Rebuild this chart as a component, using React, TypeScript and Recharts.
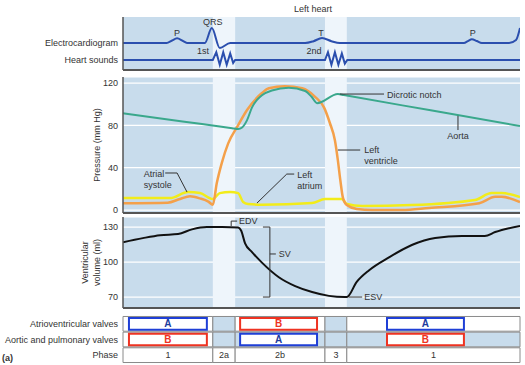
import React from "react";
import {
    LineChart, Line, XAxis, YAxis, CartesianGrid,
    ReferenceArea, ReferenceLine, ReferenceDot,
} from "recharts";

const W = 525;
const H = 365;
const FONT = "'Liberation Sans', Arial, Helvetica, sans-serif";
const BG = "#c8dcec";
const LIGHT = "#eef5fb";
const FRAME = "#555";
const INK = "#333";

// time in ms from the start of the trace
const phaseBounds = [0, 181, 226, 407, 451, 800];
const phaseNames = ["1", "2a", "2b", "3", "1"];
const lightPhases = [1, 3];

// ECG (mV) and heart sounds (relative amplitude)
const ecgT = [0, 88, 98, 109, 120, 129, 165, 179, 195, 216, 367, 384, 401, 420, 437, 687, 695, 703, 713, 723, 778, 792, 800];
const ecgMv = [0, 0, 0.15, 0.31, 0.15, 0, 0, 1.0, -0.33, 0, 0, 0.12, 0.33, 0.12, 0, 0, 0.13, 0.25, 0.13, 0, 0, 0.2, 1.0];
const soundT = [0, 181, 188, 195, 202, 209, 216, 222, 226, 407, 413, 420, 427, 434, 441, 447, 452, 800];
const soundAmp = [0, 0, 1.3, -0.8, 1.3, -0.8, 1.1, -0.5, 0, 0, 1.3, -0.8, 1.3, -0.8, 1.1, -0.6, 0, 0];

// pressures (mm Hg)
const aortaT = [0, 120, 220, 232, 240, 250, 260, 270, 280, 300, 334, 367, 380, 391, 433, 445, 620, 800];
const aortaP = [91.5, 83.7, 77.3, 76.5, 78, 85, 97, 104, 108.5, 113, 115.5, 112.5, 107, 101, 109.6, 108.6, 94.2, 79.4];
const ventT = [0, 90, 115, 135, 155, 172, 181, 189, 199, 212, 230, 250, 280, 294, 326, 361, 387, 405, 417, 427, 433, 438, 443, 451, 471, 502, 562, 617, 718, 750, 763, 800];
const ventP = [6.5, 7, 10.5, 13, 11, 8, 5, 25.5, 44.4, 63, 78.5, 94.5, 110.5, 115, 117, 115, 107, 97, 82, 66, 47, 28, 12, 4.7, 1, 0, 0, 2, 6.5, 12.5, 12.5, 7.5];
const atriumT = [0, 95, 131, 155, 181, 195, 216, 232, 242, 252, 280, 381, 407, 441, 451, 482, 582, 709, 743, 763, 800];
const atriumP = [11.3, 11.3, 17, 16, 10.4, 16, 17, 16, 7.6, 5.7, 5, 6.6, 10.4, 10.4, 5.7, 3.8, 4.7, 9.5, 16, 16, 12.3];

// ventricular volume (ml)
const volT = [0, 40, 75, 111, 139, 169, 200, 232, 238, 246, 260, 280, 314, 347, 381, 415, 447, 451, 471, 496, 536, 582, 629, 683, 729, 750, 800];
const volMl = [117, 120.5, 123, 124, 128, 130, 130, 129.5, 127, 116, 108.5, 99.5, 87, 79.4, 74.3, 71, 70, 70, 83, 93, 104, 114.6, 120.6, 122.3, 122.3, 125.7, 131];

// valve table
const rowLabels = ["Phase", "Aortic and pulmonary valves", "Atrioventricular valves"];
const avLetters = ["A", "", "B", "", "A"];
const aorticLetters = ["B", "", "A", "", "B"];
const avShaded = [false, true, false, true, false];
const aorticShaded = [false, true, true, true, true];
const boxFrom = [12, 0, 236, 0, 532];
const boxTo = [169, 0, 391, 0, 687];

const toPoints = (ts: number[], vs: number[]) => ts.map((t, i) => ({t, v: vs[i]}));

const ecgData = toPoints(ecgT, ecgMv);
const soundData = toPoints(soundT, soundAmp);
const aortaData = toPoints(aortaT, aortaP);
const ventData = toPoints(ventT, ventP);
const atriumData = toPoints(atriumT, atriumP);
const volData = toPoints(volT, volMl);

const ECG_DOMAIN = [-1.8, 1.733];
const SOUND_DOMAIN = [-1.67, 7.17];
const P_DOMAIN = [-2.8, 125.7];
const V_DOMAIN = [60.6, 138.6];

const tickStyle = {fontSize: 9, fill: INK, fontFamily: FONT};

// single-line tick text (recharts would otherwise wrap long labels)
const plainTick = (format: (v: number) => string) => (p: any) => (
    <text x={p.x} y={p.y} textAnchor="end" dominantBaseline="central"
          fontSize={9} fontFamily={FONT} fill={INK}>{format(p.payload.value)}</text>
);

const note = (lines: string[], anchor: "start" | "middle" | "end" = "start") => (p: any) => (
    <text x={p.cx} y={p.cy} textAnchor={anchor} dominantBaseline="central"
          fontSize={9} fontFamily={FONT} fill={INK}>
        {lines.map((l, i) => <tspan key={i} x={p.cx} dy={i === 0 ? 0 : 11}>{l}</tspan>)}
    </text>
);

const axisTitle = (lines: string[], dx: number) => (props: any) => {
    const vb = props.viewBox;
    const cx = vb.x + vb.width - dx;
    const cy = vb.y + vb.height / 2;
    return (
        <text x={cx} y={cy} transform={`rotate(-90, ${cx}, ${cy})`} textAnchor="middle"
              dominantBaseline="central" fontSize={9} fontFamily={FONT} fill={INK}>
            {lines.map((l, i) => (
                <tspan key={i} x={cx} dy={i === 0 ? -(lines.length - 1) * 6 : 12}>{l}</tspan>
            ))}
        </text>
    );
};

const bands = (yAxisId: any) => lightPhases.map(i => (
    <ReferenceArea key={"band" + i} yAxisId={yAxisId} x1={phaseBounds[i]} x2={phaseBounds[i + 1]}
                   fill={LIGHT} fillOpacity={1} stroke="none" ifOverflow="visible"/>
));

const leader = (pts: number[][], yAxisId: any = 0) => pts.slice(1).map((p, i) => (
    <ReferenceLine key={"ld" + i} yAxisId={yAxisId}
                   segment={[{x: pts[i][0], y: pts[i][1]}, {x: p[0], y: p[1]}]}
                   stroke={INK} strokeWidth={1} ifOverflow="visible"/>
));

const abs: React.CSSProperties = {position: "absolute", left: 0, top: 0};

const EcgPanel = () => (
    <div style={abs}>
        <LineChart width={W} height={H} margin={{top: 17, right: 5, bottom: 295, left: 0}}>
            <CartesianGrid yAxisId="ecg" fill={BG} fillOpacity={1} horizontal={false} vertical={false}/>
            {bands("ecg")}
            <XAxis type="number" dataKey="t" domain={[0, 800]} hide height={0} allowDataOverflow/>
            <YAxis yAxisId="ecg" type="number" domain={ECG_DOMAIN} ticks={[0]} width={123}
                   tickSize={3} tickMargin={2} tickLine={false} interval={0}
                   axisLine={{stroke: FRAME, strokeWidth: 1.5}} tick={plainTick(() => "Electrocardiogram")}
                   allowDataOverflow/>
            <YAxis yAxisId="snd" type="number" domain={SOUND_DOMAIN} hide width={0} orientation="right"
                   allowDataOverflow/>
            <ReferenceLine yAxisId="ecg" y={ECG_DOMAIN[0]} stroke={FRAME} strokeWidth={2} ifOverflow="visible"/>
            <Line yAxisId="ecg" data={ecgData} dataKey="v" type="monotone" stroke="#2b4fae" strokeWidth={2}
                  dot={false} isAnimationActive={false}/>
            <Line yAxisId="snd" data={soundData} dataKey="v" type="linear" stroke="#2b4fae" strokeWidth={2}
                  dot={false} isAnimationActive={false}/>
            <ReferenceDot yAxisId="snd" x={0} y={0} r={1} ifOverflow="visible"
                          shape={(p: any) => note(["Heart sounds"], "end")({cx: p.cx - 5, cy: p.cy})}/>
            <ReferenceDot yAxisId="ecg" x={109} y={0.67} r={1} ifOverflow="visible" shape={note(["P"], "middle")}/>
            <ReferenceDot yAxisId="ecg" x={181} y={1.4} r={1} ifOverflow="visible" shape={note(["QRS"], "middle")}/>
            <ReferenceDot yAxisId="ecg" x={399} y={0.67} r={1} ifOverflow="visible" shape={note(["T"], "middle")}/>
            <ReferenceDot yAxisId="ecg" x={705} y={0.67} r={1} ifOverflow="visible" shape={note(["P"], "middle")}/>
            <ReferenceDot yAxisId="ecg" x={161} y={-0.53} r={1} ifOverflow="visible" shape={note(["1st"], "middle")}/>
            <ReferenceDot yAxisId="ecg" x={385} y={-0.53} r={1} ifOverflow="visible" shape={note(["2nd"], "middle")}/>
        </LineChart>
    </div>
);

const PressurePanel = () => (
    <div style={abs}>
        <LineChart width={W} height={H} margin={{top: 77, right: 5, bottom: 152, left: 0}}>
            <CartesianGrid fill={BG} fillOpacity={1} stroke="#fff" strokeWidth={1.2} vertical={false}/>
            {bands(0)}
            <XAxis type="number" dataKey="t" domain={[0, 800]} hide height={0} allowDataOverflow/>
            <YAxis type="number" domain={P_DOMAIN} ticks={[0, 40, 80, 120]} width={123} interval={0}
                   tickSize={3} tickMargin={2} tickLine={false}
                   axisLine={{stroke: FRAME, strokeWidth: 1.5}} tick={tickStyle} allowDataOverflow
                   label={{content: axisTitle(["Pressure (mm Hg)"], 26)}}/>
            <ReferenceLine y={P_DOMAIN[0]} stroke={FRAME} strokeWidth={2} ifOverflow="visible"/>
            <Line data={atriumData} dataKey="v" type="monotone" stroke="#f2ec1a" strokeWidth={2.5}
                  dot={false} isAnimationActive={false}/>
            <Line data={ventData} dataKey="v" type="monotone" stroke="#f4a04a" strokeWidth={2.5}
                  dot={false} isAnimationActive={false}/>
            <Line data={aortaData} dataKey="v" type="monotone" stroke="#3aa88c" strokeWidth={2}
                  dot={false} isAnimationActive={false}/>
            {leader([[85, 35], [109, 35], [129, 17]])}
            <ReferenceDot x={42} y={34} r={1} ifOverflow="visible" shape={note(["Atrial", "systole"])}/>
            {leader([[345, 34], [330, 34], [270, 6.6]])}
            <ReferenceDot x={351} y={33} r={1} ifOverflow="visible" shape={note(["Left", "atrium"])}/>
            {leader([[433, 56.7], [478, 56.7]])}
            <ReferenceDot x={486} y={56.7} r={1} ifOverflow="visible" shape={note(["Left", "ventricle"])}/>
            {leader([[437, 109.6], [526, 109.6]])}
            <ReferenceDot x={532} y={108.7} r={1} ifOverflow="visible" shape={note(["Dicrotic notch"])}/>
            {leader([[675, 89], [675, 75.6]])}
            <ReferenceDot x={675} y={70} r={1} ifOverflow="visible" shape={note(["Aorta"], "middle")}/>
        </LineChart>
    </div>
);

const VolumePanel = () => (
    <div style={abs}>
        <LineChart width={W} height={H} margin={{top: 217, right: 5, bottom: 57, left: 0}}>
            <CartesianGrid fill={BG} fillOpacity={1} stroke="#fff" strokeWidth={1.2} vertical={false}/>
            {bands(0)}
            <XAxis type="number" dataKey="t" domain={[0, 800]} hide height={0} allowDataOverflow/>
            <YAxis type="number" domain={V_DOMAIN} ticks={[70, 100, 130]} width={123} interval={0}
                   tickSize={3} tickMargin={2} tickLine={false}
                   axisLine={{stroke: FRAME, strokeWidth: 1.5}} tick={tickStyle} allowDataOverflow
                   label={{content: axisTitle(["Ventricular", "volume (ml)"], 32)}}/>
            <ReferenceLine y={V_DOMAIN[0]} stroke={FRAME} strokeWidth={2} ifOverflow="visible"/>
            <Line data={volData} dataKey="v" type="monotone" stroke="#111" strokeWidth={2}
                  dot={false} isAnimationActive={false}/>
            {leader([[218, 130.9], [218, 135.1], [230, 135.1]])}
            <ReferenceDot x={234} y={135.1} r={1} ifOverflow="visible" shape={note(["EDV"])}/>
            {leader([[282, 130], [296, 130], [296, 70], [282, 70]])}
            {leader([[296, 106.9], [308, 106.9]])}
            <ReferenceDot x={314} y={106.9} r={1} ifOverflow="visible" shape={note(["SV"])}/>
            {leader([[455, 70], [482, 70]])}
            <ReferenceDot x={486} y={70} r={1} ifOverflow="visible" shape={note(["ESV"])}/>
        </LineChart>
    </div>
);

const cellRow = (row: number, shaded: boolean[], letters: string[] | null) => phaseNames.map((name, i) => (
    <ReferenceArea key={`c${row}-${i}`} x1={phaseBounds[i]} x2={phaseBounds[i + 1]} y1={row + 0.03} y2={row + 0.97}
                   fill={shaded[i] ? BG : "#fff"} fillOpacity={1} stroke="#8a8a8a" strokeWidth={1}
                   ifOverflow="visible"
                   label={letters ? undefined : {value: name, position: "center", fontSize: 9, fill: INK, fontFamily: FONT}}/>
));

const boxRow = (row: number, letters: string[]) => letters.map((letter, i) => {
    if (!letter) return null;
    const color = letter === "A" ? "#1f3fd6" : "#ee3322";
    return (
        <ReferenceArea key={`b${row}-${i}`} x1={boxFrom[i]} x2={boxTo[i]} y1={row + 0.13} y2={row + 0.87}
                       fill="#fff" fillOpacity={1} stroke={color} strokeWidth={2} ifOverflow="visible"
                       label={{value: letter, position: "center", fontSize: 10, fontWeight: "bold",
                           fill: letter === "A" ? "#1d3c9e" : "#ee3322", fontFamily: FONT}}/>
    );
});

const ValveTable = () => (
    <div style={abs}>
        <LineChart width={W} height={H} margin={{top: 316, right: 5, bottom: 2, left: 0}}>
            <XAxis type="number" dataKey="t" domain={[0, 800]} hide height={0} allowDataOverflow/>
            <YAxis type="number" domain={[0, 3]} ticks={[0.5, 1.5, 2.5]} width={123} interval={0}
                   tick={plainTick((v: number) => rowLabels[Math.floor(v)])}
                   tickSize={3} tickMargin={2} tickLine={false} axisLine={false}
                   allowDataOverflow/>
            {cellRow(0, [false, false, false, false, false], null)}
            {cellRow(1, aorticShaded, aorticLetters)}
            {cellRow(2, avShaded, avLetters)}
            {boxRow(1, aorticLetters)}
            {boxRow(2, avLetters)}
        </LineChart>
    </div>
);

export default function App() {
    return (
        <div style={{position: "absolute", left: 0, top: 0, width: W, height: H, background: "#fff", fontFamily: FONT}}>
            <svg width={W} height={H} style={abs}>
                <text x={313} y={9} textAnchor="middle" dominantBaseline="central" fontSize={9} fill={INK}
                      fontFamily={FONT}>Left heart</text>
                <text x={2} y={358} dominantBaseline="central" fontSize={9} fontWeight="bold" fill={INK}
                      fontFamily={FONT}>(a)</text>
            </svg>
            <EcgPanel/>
            <PressurePanel/>
            <VolumePanel/>
            <ValveTable/>
        </div>
    );
}
